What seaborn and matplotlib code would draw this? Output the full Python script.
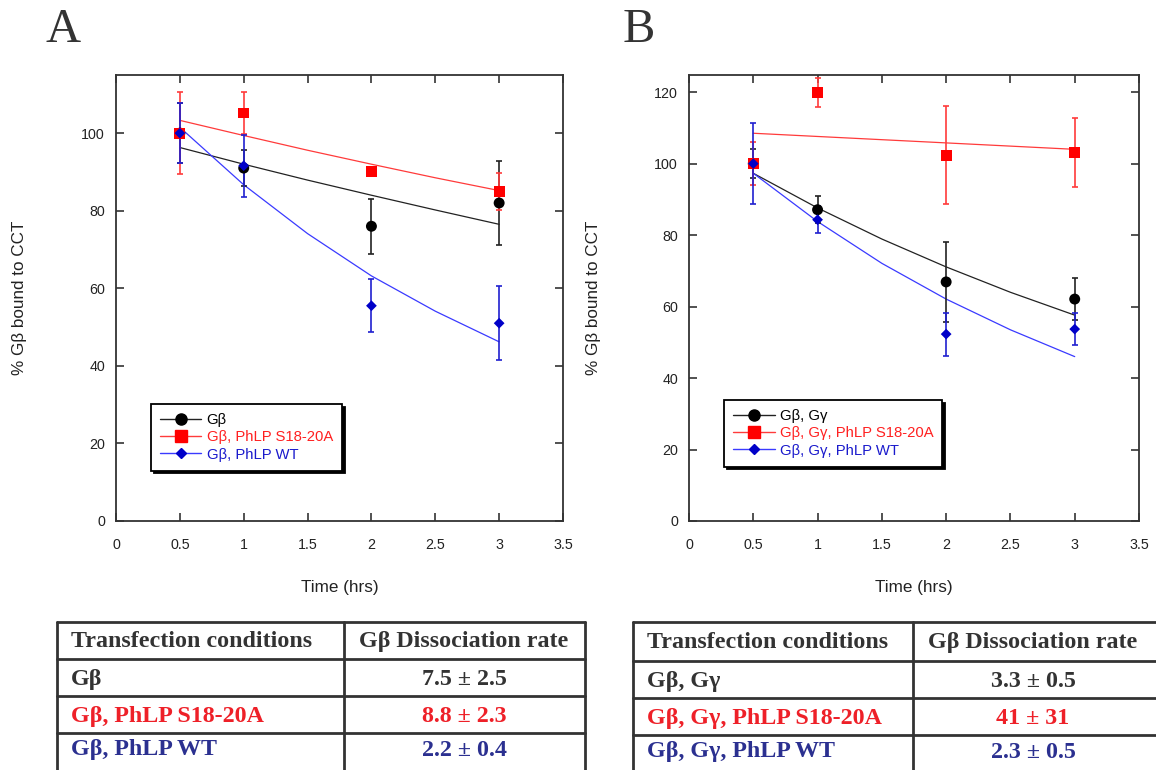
import numpy as np
import pandas as pd
import matplotlib
matplotlib.use("Agg")
import matplotlib.pyplot as plt
from matplotlib.lines import Line2D
import seaborn as sns

# ---------------- data ----------------
time_pts = [0.5, 1, 2, 3]
fit_time = [0.5, 1, 1.5, 2, 2.5, 3]

# Panel A
a_labels = ["Gβ", "Gβ, PhLP S18-20A", "Gβ, PhLP WT"]
a_black_y = [100, 91.0, 76.0, 82.0]
a_black_err = [7.8, 4.6, 7.1, 10.9]
a_red_y = [100, 105.2, 90.1, 84.9]
a_red_err = [10.6, 5.3, 1.0, 4.8]
a_blue_y = [100, 91.6, 55.5, 51.0]
a_blue_err = [7.8, 8.0, 6.8, 9.6]
a_black_fit = [96.3, 92.0, 87.9, 84.0, 80.2, 76.5]
a_red_fit = [103.3, 99.4, 95.6, 92.0, 88.5, 85.2]
a_blue_fit = [101.5, 86.7, 74.1, 63.2, 54.1, 46.2]
a_rates = ["7.5 ± 2.5", "8.8 ± 2.3", "2.2 ± 0.4"]

# Panel B
b_labels = ["Gβ, Gγ", "Gβ, Gγ, PhLP S18-20A", "Gβ, Gγ, PhLP WT"]
b_black_y = [100, 87.1, 66.9, 62.1]
b_black_err = [4.0, 3.8, 11.3, 5.8]
b_red_y = [100, 119.9, 102.3, 103.2]
b_red_err = [6.0, 4.0, 13.7, 9.7]
b_blue_y = [100, 84.3, 52.3, 53.7]
b_blue_err = [11.3, 3.8, 6.0, 4.4]
b_black_fit = [97.3, 87.6, 78.9, 71.1, 64.0, 57.6]
b_red_fit = [108.5, 107.6, 106.7, 105.8, 104.9, 104.0]
b_blue_fit = [97.3, 83.8, 72.1, 62.1, 53.5, 46.0]
b_rates = ["3.3 ± 0.5", "41 ± 31", "2.3 ± 0.5"]

x_ticks = [0, 0.5, 1, 1.5, 2, 2.5, 3, 3.5]
x_tick_labels = ["0", "0.5", "1", "1.5", "2", "2.5", "3", "3.5"]
a_y_ticks = [0, 20, 40, 60, 80, 100]
b_y_ticks = [0, 20, 40, 60, 80, 100, 120]
table_header = ["Transfection conditions", "Gβ Dissociation rate"]

# ---------------- style ----------------
sns.set_theme(style="white")
plt.rcParams['font.family'] = ['Liberation Sans', 'DejaVu Sans']

W, H = 1156, 770
fig = plt.figure(figsize=(W / 100, H / 100), dpi=100)

marker_col = {"k": "#000000", "r": "#ff0000", "b": "#0000c8"}
line_col = {"k": "#222222", "r": "#ff3b3b", "b": "#3a3aff"}
err_col = {"k": "#222222", "r": "#ff3b3b", "b": "#2020d0"}
markers = {"k": "o", "r": "s", "b": "D"}
msize = {"k": 62, "r": 62, "b": 30}
lgd_ms = {"k": 8.0, "r": 8.0, "b": 5.3}
text_col = {"k": "#000000", "r": "#ff2020", "b": "#1a1acc"}


def px_rect(x0, x1, y0, y1):
    return [x0 / W, 1 - y1 / H, (x1 - x0) / W, (y1 - y0) / H]


def draw_panel(rect, series, labels, y_ticks, ylim, lgd_anchor, ylab_x):
    ax = fig.add_axes(rect)
    for key, (y, err, fit) in series.items():
        fit_df = pd.DataFrame({"t": fit_time, "v": fit})
        sns.lineplot(data=fit_df, x="t", y="v", ax=ax, color=line_col[key],
                     lw=0.9, zorder=2, legend=False)
        ax.errorbar(time_pts, y, yerr=err, fmt="none", ecolor=err_col[key],
                    elinewidth=1.2, capsize=2.5, capthick=1.2, zorder=3)
    for key, (y, err, fit) in series.items():
        pt_df = pd.DataFrame({"t": time_pts, "v": y})
        sns.scatterplot(data=pt_df, x="t", y="v", ax=ax, marker=markers[key],
                        s=msize[key], color=marker_col[key], edgecolor="none",
                        linewidth=0, zorder=4, legend=False)
    ax.set_xlim(0, 3.5)
    ax.set_ylim(*ylim)
    ax.set_xticks(x_ticks)
    ax.set_xticklabels(x_tick_labels)
    ax.set_yticks(y_ticks)
    ax.set_yticklabels([str(v) for v in y_ticks])
    ax.tick_params(direction="in", length=6, width=1.1, top=True, right=True,
                   bottom=True, left=True, labelsize=10.3, colors="#222222",
                   pad=8)
    ax.tick_params(axis="x", pad=12)
    for sp in ax.spines.values():
        sp.set_color("#333333")
        sp.set_linewidth(1.3)
    ax.set_xlabel("Time (hrs)", fontsize=12.3, color="#222222")
    ax.set_ylabel("% Gβ bound to CCT", fontsize=12.3, color="#222222")
    ax.xaxis.set_label_coords(0.5, -0.150)
    ax.yaxis.set_label_coords(ylab_x, 0.5)
    ax.xaxis.label.set_va("center")
    ax.yaxis.label.set_va("center")
    ax.set_facecolor("white")

    handles = []
    for key in ["k", "r", "b"]:
        handles.append(Line2D([0], [0], color=line_col[key], lw=1.0,
                              marker=markers[key], markersize=lgd_ms[key],
                              markerfacecolor=marker_col[key],
                              markeredgecolor=marker_col[key]))
    lg = ax.legend(handles, labels, loc="upper left", bbox_to_anchor=lgd_anchor,
                   borderaxespad=0, frameon=True, fancybox=False,
                   shadow={"color": "black", "alpha": 1}, fontsize=10.7,
                   handlelength=2.8, handletextpad=0.35, labelspacing=0.22,
                   borderpad=0.6)
    lg.get_frame().set_edgecolor("black")
    lg.get_frame().set_linewidth(1.3)
    for t, key in zip(lg.get_texts(), ["k", "r", "b"]):
        t.set_color(text_col[key])
    return ax


axA = draw_panel(px_rect(116, 563, 75, 521),
                 {"k": (a_black_y, a_black_err, a_black_fit),
                  "r": (a_red_y, a_red_err, a_red_fit),
                  "b": (a_blue_y, a_blue_err, a_blue_fit)},
                 a_labels, a_y_ticks, (0, 115), (0.078, 0.262), -0.215)
axB = draw_panel(px_rect(689, 1139, 75, 521),
                 {"k": (b_black_y, b_black_err, b_black_fit),
                  "r": (b_red_y, b_red_err, b_red_fit),
                  "b": (b_blue_y, b_blue_err, b_blue_fit)},
                 b_labels, b_y_ticks, (0, 124.8), (0.078, 0.271), -0.213)

# panel letters
fig.text(46 / W, 1 - 42 / H, "A", fontsize=35, family="Liberation Serif",
         color="#333333", ha="left", va="baseline")
fig.text(623 / W, 1 - 42 / H, "B", fontsize=35, family="Liberation Serif",
         color="#333333", ha="left", va="baseline")

# ---------------- tables ----------------
tbl_line = "#333333"
row_col = {0: "#333333", 1: "#ee2028", 2: "#2b3090"}
TFS = 17.3


def hline(x0, x1, y):
    fig.add_artist(Line2D([x0 / W, x1 / W], [1 - y / H, 1 - y / H],
                          color=tbl_line, lw=2.0))


def vline(x, y0, y1):
    fig.add_artist(Line2D([x / W, x / W], [1 - y0 / H, 1 - y1 / H],
                          color=tbl_line, lw=2.0))


def draw_table(x_left, x_div, x_right, y_lines, text_x, val_cx, labels, rates):
    for y in y_lines:
        hline(x_left, x_right, y)
    vline(x_left, y_lines[0], H)
    vline(x_div, y_lines[0], H)
    vline(x_right, y_lines[0], H)
    centers = [(y_lines[0] + y_lines[1]) / 2 + 1,
               (y_lines[1] + y_lines[2]) / 2 + 2,
               (y_lines[2] + y_lines[3]) / 2 + 2,
               y_lines[3] + 17]
    fig.text(text_x / W, 1 - centers[0] / H, table_header[0], fontsize=TFS,
             family="Liberation Serif", weight="bold", color="#333333",
             ha="left", va="center")
    fig.text(val_cx / W, 1 - centers[0] / H, table_header[1], fontsize=TFS,
             family="Liberation Serif", weight="bold", color="#333333",
             ha="center", va="center")
    for i in range(3):
        fig.text(text_x / W, 1 - centers[i + 1] / H, labels[i], fontsize=TFS,
                 family="Liberation Serif", weight="bold", color=row_col[i],
                 ha="left", va="center")
        fig.text(val_cx / W, 1 - centers[i + 1] / H, rates[i],
                 fontsize=TFS, family="Liberation Serif", weight="bold",
                 color=row_col[i], ha="center", va="center")


draw_table(57, 344, 585, [622, 659, 696, 733], 71, 464, a_labels, a_rates)
draw_table(633, 913, 1160, [622, 661, 698, 735], 647, 1033, b_labels, b_rates)

fig.savefig("out.png", dpi=100, facecolor="white")
